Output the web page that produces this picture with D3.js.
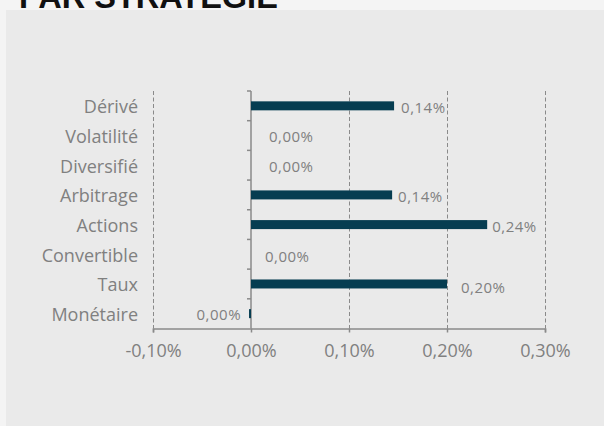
<!DOCTYPE html>
<html><head><meta charset="utf-8">
<script src="https://cdn.jsdelivr.net/npm/d3@7"></script>
<style>
html,body{margin:0;padding:0;background:#f4f4f4;}
svg{display:block;}
</style></head>
<body>
<svg id="c" width="604" height="426"></svg>
<script>
const title = "PAR STRATÉGIE";
const categories = ["Dérivé","Volatilité","Diversifié","Arbitrage","Actions","Convertible","Taux","Monétaire"];
const values = [0.146, 0.0, 0.0, 0.144, 0.241, 0.0, 0.200, -0.002];
const valueLabels = ["0,14%","0,00%","0,00%","0,14%","0,24%","0,00%","0,20%","0,00%"];
const xTicks = [-0.1, 0.0, 0.1, 0.2, 0.3];
const xTickLabels = ["-0,10%","0,00%","0,10%","0,20%","0,30%"];

const svg = d3.select("#c");
const font = "'Open Sans', 'DejaVu Sans', sans-serif";
const textCol = "#808080";

svg.append("rect").attr("x",6).attr("y",10).attr("width",598).attr("height",416).attr("fill","#eaeaea");
svg.append("text").attr("x",19).attr("y",8).attr("font-family","'Liberation Sans', Arial, sans-serif")
  .attr("font-weight","bold").attr("font-size",32.5).attr("fill","#111").text(title);

const x = d3.scaleLinear().domain([-0.1,0.3]).range([153,545]);
const y = d3.scaleBand().domain(categories).range([91,328.5]).paddingInner(0).paddingOuter(0);

// gridlines
const g = svg.append("g");
g.selectAll("line.grid").data(xTicks.filter(d=>d!==0)).join("line")
  .attr("x1",d=>Math.round(x(d))+0.5).attr("x2",d=>Math.round(x(d))+0.5)
  .attr("y1",91).attr("y2",328.5)
  .attr("stroke","#8a8a8a").attr("stroke-width",1).attr("stroke-dasharray","4,2.5");

// x axis
const xAxis = d3.axisBottom(x).tickValues(xTicks).tickFormat((d,i)=>xTickLabels[i]).tickSize(4).tickPadding(11.5);
const xg = svg.append("g").attr("transform","translate(0,328.5)").call(xAxis);
xg.select(".domain").attr("stroke","#8a8a8a").attr("stroke-width",1.5);
xg.selectAll(".tick line").attr("stroke","#8a8a8a").attr("stroke-width",1.5);
xg.selectAll(".tick text").attr("font-family",font).attr("font-size",18).attr("fill",textCol);

// y axis line at zero with ticks
const yg = svg.append("g").attr("transform",`translate(${x(0)},0)`);
yg.append("line").attr("x1",0).attr("x2",0).attr("y1",91).attr("y2",328.5).attr("stroke","#8a8a8a").attr("stroke-width",1.5);
const bounds = categories.map(c=>y(c));
yg.selectAll("line.t").data(bounds).join("line")
  .attr("x1",-4).attr("x2",0).attr("y1",d=>d).attr("y2",d=>d).attr("stroke","#8a8a8a").attr("stroke-width",1.5);

// category labels
svg.selectAll("text.cat").data(categories).join("text")
  .attr("x",138).attr("y",d=>y(d)+y.bandwidth()/2+1).attr("dy","0.35em")
  .attr("text-anchor","end").attr("font-family",font).attr("font-size",18).attr("fill",textCol).text(d=>d);

// bars
const bh = 9;
svg.selectAll("rect.bar").data(values).join("rect")
  .attr("x",d=>x(Math.min(0,d))).attr("width",d=>Math.abs(x(d)-x(0)))
  .attr("y",(d,i)=>y(categories[i])+y.bandwidth()/2-bh/2).attr("height",bh)
  .attr("fill","#063d51");

// value labels
const lblOffsets = [7,18,18,6,5,14,14,-8];
const lblDy = [2,1.5,1.5,2,2,2,4,1];
svg.selectAll("text.val").data(values).join("text")
  .attr("x",(d,i)=>x(d)+lblOffsets[i])
  .attr("y",(d,i)=>y(categories[i])+y.bandwidth()/2+lblDy[i]).attr("dy","0.35em")
  .attr("text-anchor",d=>d<0?"end":"start")
  .attr("font-family",font).attr("font-size",15).attr("letter-spacing",0.5).attr("fill",textCol)
  .text((d,i)=>valueLabels[i]);
</script>
</body></html>
